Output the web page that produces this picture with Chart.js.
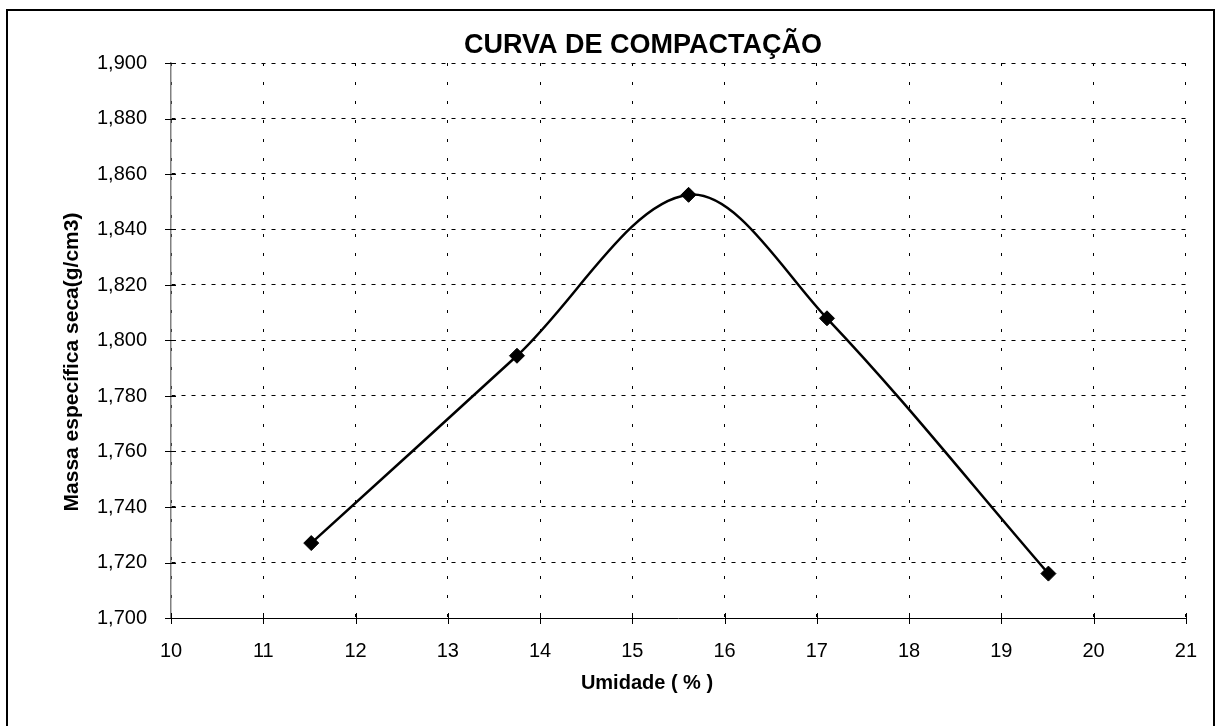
<!DOCTYPE html>
<html lang="pt-BR">
<head>
<meta charset="utf-8">
<title>Curva de compactação</title>
<script src="https://cdn.jsdelivr.net/npm/chart.js@4.4.1/dist/chart.umd.min.js"></script>
<style>
  html, body { margin: 0; padding: 0; background: #fff; }
  canvas { display: block; }
</style>
</head>
<body>
<canvas id="compactacao" width="1218" height="726"></canvas>
<script>
// ensaio de compactação: umidade (%) x massa específica seca (g/cm3)
const umidade = [11.52, 13.75, 15.61, 17.11, 19.51]
const massaSeca = [1.727, 1.7945, 1.8525, 1.808, 1.716]

// divisões dos eixos
const xTicks = [10, 11, 12, 13, 14, 15, 16, 17, 18, 19, 20, 21]
const yTicks = [1.70, 1.72, 1.74, 1.76, 1.78, 1.80, 1.82, 1.84, 1.86, 1.88, 1.90]

const titulo = 'CURVA DE COMPACTAÇÃO'
const tituloX = 'Umidade ( % )'
const tituloY = 'Massa específica seca(g/cm3)'

const fonte = 'Arial, "Liberation Sans", sans-serif'
Chart.defaults.font.family = fonte
Chart.defaults.color = '#000'

// moldura e textos fixos
const moldura = {
    id: 'moldura',
    beforeDraw(chart) {
        const { ctx, width, height } = chart
        ctx.save()
        ctx.fillStyle = '#fff'
        ctx.fillRect(0, 0, width, height)
        ctx.strokeStyle = '#000'
        ctx.lineWidth = 2
        ctx.beginPath()
        ctx.moveTo(7, height + 2)
        ctx.lineTo(7, 10)
        ctx.lineTo(1214, 10)
        ctx.lineTo(1214, height + 2)
        ctx.stroke()
        ctx.restore()
    },
    afterDraw(chart) {
        const { ctx } = chart
        ctx.save()
        ctx.fillStyle = '#000'
        ctx.textAlign = 'center'
        ctx.textBaseline = 'alphabetic'
        ctx.font = 'bold 27px ' + fonte
        ctx.fillText(titulo, 643, 53)
        ctx.font = 'bold 20px ' + fonte
        ctx.fillText(tituloX, 647, 689)
        ctx.font = 'bold 21px ' + fonte
        ctx.translate(78, 362)
        ctx.rotate(-Math.PI / 2)
        ctx.fillText(tituloY, 0, 0)
        ctx.restore()
    }
}

// marcas de divisão cruzando os eixos
const marcas = {
    id: 'marcas',
    afterDatasetsDraw(chart) {
        const { ctx, chartArea: a, scales: { x, y } } = chart
        ctx.save()
        ctx.lineWidth = 1
        ctx.strokeStyle = '#000'
        ctx.beginPath()
        x.ticks.forEach(t => {
            const px = Math.round(x.getPixelForValue(t.value)) + 0.5
            ctx.moveTo(px, a.bottom - 5)
            ctx.lineTo(px, a.bottom + 6)
        })
        y.ticks.forEach(t => {
            const py = Math.round(y.getPixelForValue(t.value)) + 0.5
            ctx.moveTo(a.left - 6, py)
            ctx.lineTo(a.left + 5, py)
        })
        ctx.stroke()
        ctx.restore()
    }
}

const data = {
    datasets: [{
        label: 'Curva de compactação',
        data: umidade.map((u, i) => ({ x: u, y: massaSeca[i] })),
        showLine: true,
        tension: 0.34,
        borderColor: '#000',
        borderWidth: 2.5,
        pointStyle: 'rectRot',
        pointRadius: 7.5,
        pointBackgroundColor: '#000',
        pointBorderColor: '#000',
        pointBorderWidth: 1
    }]
}

const config = {
    type: 'scatter',
    data,
    options: {
        responsive: false,
        animation: false,
        events: [],
        layout: {
            padding: { top: 63, right: 29, left: 0, bottom: 0 }
        },
        scales: {
            x: {
                type: 'linear',
                min: xTicks[0],
                max: xTicks[xTicks.length - 1],
                afterBuildTicks: s => { s.ticks = xTicks.map(v => ({ value: v })) },
                afterFit: s => { s.height = 108 },
                ticks: {
                    font: { size: 20 },
                    padding: 21,
                    maxRotation: 0,
                    callback: v => String(v)
                },
                grid: {
                    color: '#000',
                    lineWidth: 1,
                    drawTicks: false
                },
                border: {
                    display: true,
                    color: '#000',
                    width: 1,
                    dash: [3, 16]
                }
            },
            y: {
                type: 'linear',
                min: yTicks[0],
                max: yTicks[yTicks.length - 1],
                afterBuildTicks: s => { s.ticks = yTicks.map(v => ({ value: v })) },
                afterFit: s => { s.width = 171 },
                ticks: {
                    font: { size: 20 },
                    padding: 24,
                    callback: v => v.toFixed(3).replace('.', ',')
                },
                grid: {
                    color: '#000',
                    lineWidth: 1,
                    drawTicks: false
                },
                border: {
                    display: true,
                    color: '#808080',
                    width: 1.5,
                    dash: [4, 6]
                }
            }
        },
        plugins: {
            legend: { display: false },
            tooltip: { enabled: false },
            title: { display: false }
        }
    },
    plugins: [moldura, marcas]
}

const grafico = new Chart(document.getElementById('compactacao'), config)
</script>
</body>
</html>
